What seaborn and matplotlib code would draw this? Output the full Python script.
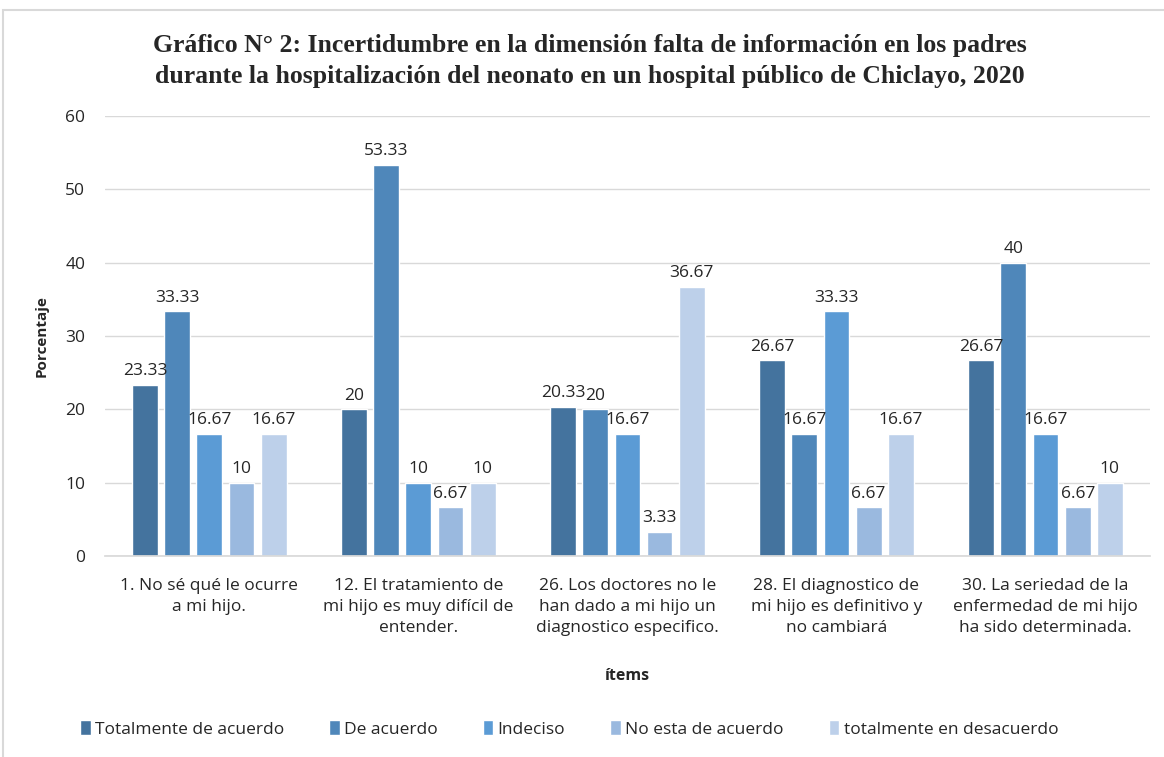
import matplotlib
matplotlib.use("Agg")
import matplotlib.pyplot as plt
import seaborn as sns
import pandas as pd
from matplotlib.patches import Rectangle

items = [
    "1. No sé qué le ocurre\na mi hijo.",
    "12. El tratamiento de\nmi hijo es muy difícil de\nentender.",
    "26. Los doctores no le\nhan dado a mi hijo un\ndiagnostico especifico.",
    "28. El diagnostico de\nmi hijo es definitivo y\nno cambiará",
    "30. La seriedad de la\nenfermedad de mi hijo\nha sido determinada.",
]
series = ["Totalmente de acuerdo", "De acuerdo", "Indeciso",
          "No esta de acuerdo", "totalmente en desacuerdo"]
totalmente_de_acuerdo = [23.33, 20, 20.33, 26.67, 26.67]
de_acuerdo = [33.33, 53.33, 20, 16.67, 40]
indeciso = [16.67, 10, 16.67, 33.33, 16.67]
no_esta_de_acuerdo = [10, 6.67, 3.33, 6.67, 6.67]
totalmente_en_desacuerdo = [16.67, 10, 36.67, 16.67, 10]

colors = ["#44739E", "#4F87BA", "#5B9BD5", "#9AB9DF", "#BDD0EA"]

values = [totalmente_de_acuerdo, de_acuerdo, indeciso,
          no_esta_de_acuerdo, totalmente_en_desacuerdo]
rows = []
for s, vals in zip(series, values):
    for it, v in zip(items, vals):
        rows.append({"item": it, "serie": s, "valor": v})
df = pd.DataFrame(rows)

sns.set_theme(style="white")
plt.rcParams["font.family"] = ["Open Sans", "DejaVu Sans"]

fig = plt.figure(figsize=(11.64, 7.57), dpi=100)
ax = fig.add_axes([0.090, 0.2655, 0.898, 0.5815])

sns.barplot(data=df, x="item", y="valor", hue="serie", hue_order=series,
            order=items, palette=colors, width=0.77, gap=0.2,
            saturation=1, ax=ax, legend=True)

for cont in ax.containers:
    ax.bar_label(cont, labels=[f"{v:g}" for v in cont.datavalues],
                 padding=4, fontsize=12.5, color="#262626")

ax.set_ylim(0, 60)
ax.set_yticks(range(0, 61, 10))
ax.yaxis.grid(True, color="#D9D9D9", linewidth=1)
ax.set_axisbelow(True)
for sp in ["top", "right", "left"]:
    ax.spines[sp].set_visible(False)
ax.spines["bottom"].set_color("#D9D9D9")
ax.tick_params(axis="y", labelsize=12.5, colors="#262626", length=0, pad=14)
ax.tick_params(axis="x", labelsize=12.5, colors="#262626", length=0, pad=16)
for lbl in ax.get_xticklabels():
    lbl.set_linespacing(1.4)
ax.set_xlabel("ítems", fontsize=11.5, fontweight="bold", color="#262626", labelpad=23)
ax.set_ylabel("Porcentaje", fontsize=11, fontweight="bold", color="#262626", labelpad=12)

fig.suptitle("Gráfico N° 2: Incertidumbre en la dimensión falta de información en los padres\n"
             "durante la hospitalización del neonato en un hospital público de Chiclayo, 2020",
             x=0.507, y=0.955, fontsize=18.5, fontweight="bold",
             family=["Liberation Serif", "DejaVu Serif"], linespacing=1.45)

ax.legend_.remove()
handles, labels = ax.get_legend_handles_labels()
leg = fig.legend(handles, labels, loc="center", bbox_to_anchor=(0.489, 0.037),
                 ncol=5, frameon=False, fontsize=12.5, handlelength=0.6,
                 handleheight=0.9, handletextpad=0.25, columnspacing=2.6)
for t in leg.get_texts():
    t.set_color("#262626")

fig.add_artist(Rectangle((0.003, -0.1), 1.2, 1.087, transform=fig.transFigure,
                         fill=False, edgecolor="#D9D9D9", linewidth=1.5))

fig.savefig("out.png", dpi=100)
